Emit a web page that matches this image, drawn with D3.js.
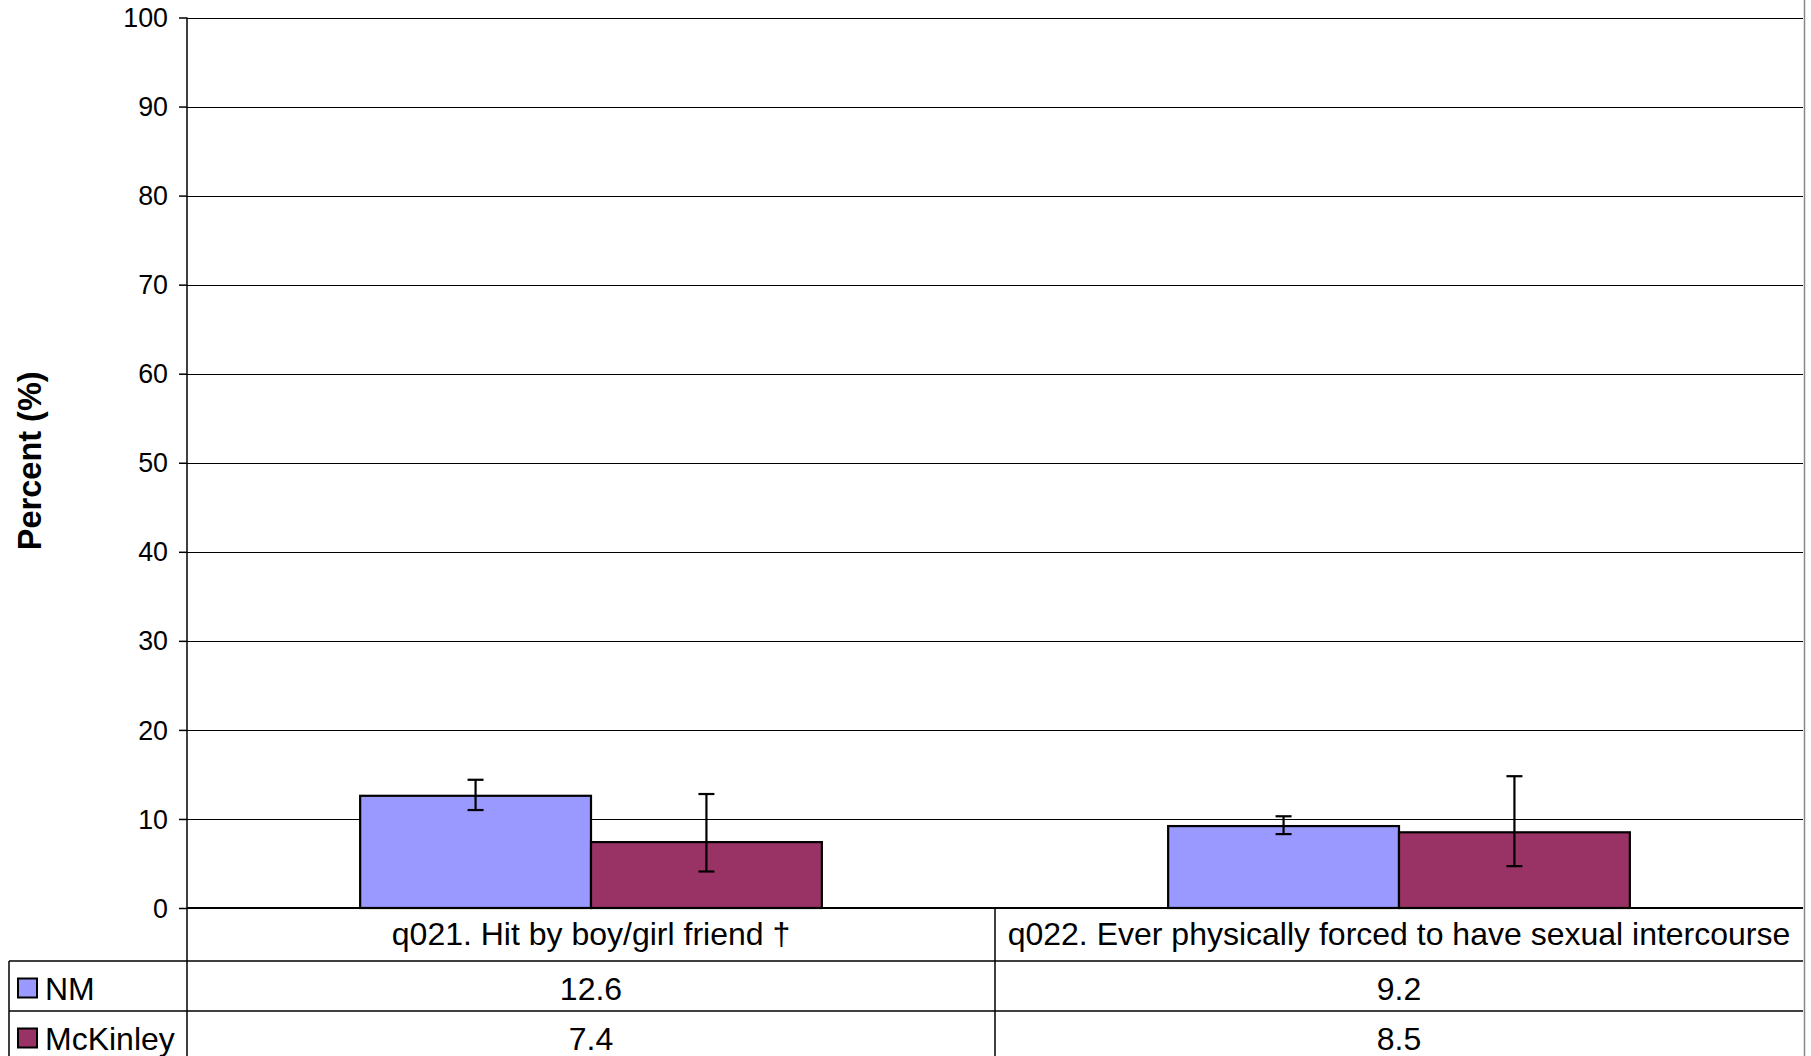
<!DOCTYPE html>
<html>
<head>
<meta charset="utf-8">
<script src="https://cdn.jsdelivr.net/npm/d3@7"></script>
<style>
  html, body { margin: 0; padding: 0; background: #fff; }
  svg { display: block; }
  text { font-family: "Liberation Sans", Arial, sans-serif; }
</style>
</head>
<body>
<svg id="chart" width="1811" height="1056"></svg>
<script>
// ---- data ----
const categories = ["q021. Hit by boy/girl friend \u2020", "q022. Ever physically forced to have sexual intercourse"];
const seriesNames = ["NM", "McKinley"];
const seriesColors = ["#9999FF", "#993366"];
const nmValues = [12.6, 9.2];
const mckinleyValues = [7.4, 8.5];
const nmLower = [11.0, 8.3];
const nmUpper = [14.4, 10.3];
const mckinleyLower = [4.1, 4.7];
const mckinleyUpper = [12.8, 14.8];
const yTicks = [0, 10, 20, 30, 40, 50, 60, 70, 80, 90, 100];
const yLabel = "Percent (%)";

const seriesValues = [nmValues, mckinleyValues];
const seriesLower = [nmLower, mckinleyLower];
const seriesUpper = [nmUpper, mckinleyUpper];

// ---- layout ----
const svg = d3.select("#chart");
const plotLeft = 187, plotRight = 1803, plotTop = 17.5, plotBottom = 908;
const tableLeft = 9, rowLines = [961, 1011, 1061];
const tableFont = "32px";

const x = d3.scaleBand().domain(categories).range([plotLeft, plotRight]).paddingInner(0).paddingOuter(0);
const xs = d3.scaleBand().domain(seriesNames).range([0, x.bandwidth()]).paddingInner(0).paddingOuter(0.75);
const y = d3.scaleLinear().domain([0, 100]).range([plotBottom, plotTop]);

// gridlines
svg.append("g").selectAll("line").data(yTicks.filter(d => d > 0)).join("line")
  .attr("x1", plotLeft).attr("x2", plotRight)
  .attr("y1", d => Math.round(y(d)) + 0.5).attr("y2", d => Math.round(y(d)) + 0.5)
  .attr("stroke", "#000").attr("stroke-width", 1.2);

// y axis
const yAxis = d3.axisLeft(y).tickValues(yTicks).tickSize(8).tickPadding(11).tickFormat(d3.format("d"));
const ga = svg.append("g").attr("transform", `translate(${plotLeft},0)`).call(yAxis);
ga.select(".domain").remove();
ga.selectAll(".tick line").attr("stroke", "#000").attr("stroke-width", 1.5);
ga.selectAll(".tick text").attr("font-size", "26.8px").attr("fill", "#000").attr("dy", "0.34em")
  .style("font-family", "'Liberation Sans', Arial, sans-serif");

// bars
seriesNames.forEach((s, si) => {
  const g = svg.append("g");
  g.selectAll("rect").data(categories).join("rect")
    .attr("x", c => x(c) + xs(s))
    .attr("y", (c, i) => y(seriesValues[si][i]))
    .attr("width", xs.bandwidth())
    .attr("height", (c, i) => y(0) - y(seriesValues[si][i]))
    .attr("fill", seriesColors[si])
    .attr("stroke", "#000").attr("stroke-width", 2.2);
});

// error bars
seriesNames.forEach((s, si) => {
  const g = svg.append("g").attr("stroke", "#000").attr("stroke-width", 2.2);
  categories.forEach((c, i) => {
    const cx = x(c) + xs(s) + xs.bandwidth() / 2;
    const lo = y(seriesLower[si][i]), hi = y(seriesUpper[si][i]);
    g.append("line").attr("x1", cx).attr("x2", cx).attr("y1", lo).attr("y2", hi);
    g.append("line").attr("x1", cx - 8).attr("x2", cx + 8).attr("y1", lo).attr("y2", lo);
    g.append("line").attr("x1", cx - 8).attr("x2", cx + 8).attr("y1", hi).attr("y2", hi);
  });
});

// axis lines
svg.append("line").attr("x1", plotLeft).attr("x2", plotLeft).attr("y1", plotTop).attr("y2", 1056)
  .attr("stroke", "#000").attr("stroke-width", 1.5);
svg.append("line").attr("x1", plotLeft).attr("x2", plotRight).attr("y1", y(0)).attr("y2", y(0))
  .attr("stroke", "#000").attr("stroke-width", 2);

// table
const tg = svg.append("g").attr("stroke", "#000").attr("stroke-width", 1.5);
x.domain().slice(1).forEach(c => {
  tg.append("line").attr("x1", x(c)).attr("x2", x(c)).attr("y1", y(0)).attr("y2", 1056);
});
rowLines.slice(0, 2).forEach(r => {
  tg.append("line").attr("x1", tableLeft).attr("x2", plotRight).attr("y1", r).attr("y2", r);
});
tg.append("line").attr("x1", tableLeft).attr("x2", tableLeft).attr("y1", rowLines[0]).attr("y2", 1056);
// outer right border
svg.append("line").attr("x1", 1804.5).attr("x2", 1804.5).attr("y1", 0).attr("y2", 1056)
  .attr("stroke", "#888").attr("stroke-width", 1.5);

// category labels
svg.append("g").selectAll("text").data(categories).join("text")
  .attr("x", c => x(c) + x.bandwidth() / 2)
  .attr("y", (y(0) + rowLines[0]) / 2 + 10.5)
  .attr("text-anchor", "middle")
  .attr("font-size", tableFont).attr("fill", "#000")
  .text(c => c);

// value rows
seriesNames.forEach((s, si) => {
  const top = rowLines[si], bot = rowLines[si + 1];
  const cy = (top + bot) / 2;
  svg.append("rect").attr("x", 18).attr("y", cy - 7.5).attr("width", 19).attr("height", 19)
    .attr("fill", seriesColors[si]).attr("stroke", "#000").attr("stroke-width", 2);
  svg.append("text").attr("x", 45).attr("y", cy + 13.5)
    .attr("font-size", tableFont).attr("fill", "#000").text(s);
  svg.append("g").selectAll("text").data(categories).join("text")
    .attr("x", c => x(c) + x.bandwidth() / 2)
    .attr("y", cy + 13.5)
    .attr("text-anchor", "middle")
    .attr("font-size", tableFont).attr("fill", "#000")
    .text((c, i) => seriesValues[si][i].toFixed(1));
});

// y label
svg.append("text")
  .attr("transform", `translate(30,${(plotTop + plotBottom) / 2 - 2}) rotate(-90)`)
  .attr("text-anchor", "middle").attr("dominant-baseline", "central")
  .attr("font-size", "32.5px").attr("font-weight", "bold").attr("fill", "#000")
  .text(yLabel);
</script>
</body>
</html>
